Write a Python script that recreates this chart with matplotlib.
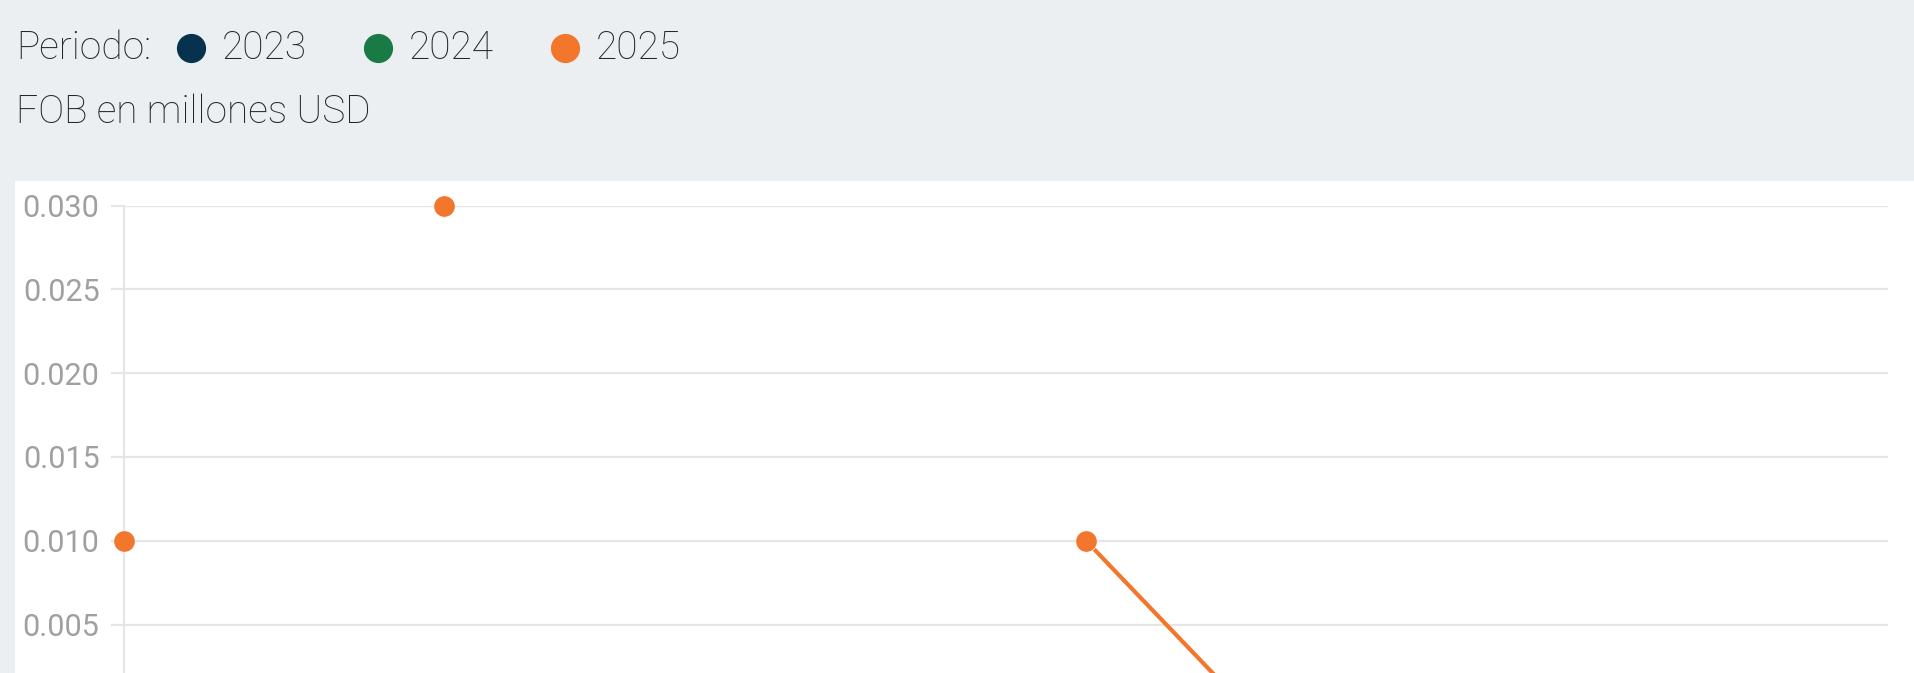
import numpy as np
import matplotlib.pyplot as plt
from matplotlib.patches import Rectangle
from matplotlib.lines import Line2D

plt.rcParams['font.family'] = ['Roboto', 'DejaVu Sans']

# data (FOB en millones USD, por mes)
months = ['Ene', 'Feb', 'Mar', 'Abr', 'May', 'Jun', 'Jul', 'Ago', 'Sep', 'Oct', 'Nov', 'Dic']
periods = ['2023', '2024', '2025']
colors = ['#06324f', '#1a7a45', '#f2762b']
fob_2023 = [0.0, 0.0, 0.0, 0.0, 0.0, 0.0, 0.0, 0.0, 0.0, 0.0, 0.0, 0.0]
fob_2024 = [0.0, 0.0, 0.0, 0.0, 0.0, 0.0, 0.0, 0.0, 0.0, 0.0, 0.0, 0.0]
fob_2025 = [0.010, np.nan, 0.030, np.nan, np.nan, np.nan, 0.010, 0.0, np.nan, np.nan, np.nan, np.nan]
yticks = [0.005, 0.010, 0.015, 0.020, 0.025, 0.030]

W, H = 1915, 673
fig = plt.figure(figsize=(W / 100, H / 100), dpi=100)
fig.patch.set_facecolor('#ebeff2')

# white chart panel
fig.patches.append(Rectangle((15 / W, 0), 1 - 15 / W, (H - 181) / H, transform=fig.transFigure,
                             facecolor='white', edgecolor='none', zorder=-1))

# header: legend row + unit
row_y = 1 - 48 / H
fig.text(16 / W, row_y, 'Periodo:', fontsize=28, color='#262626', va='center',
         fontweight='light')
dot_x = [191, 378, 565]
for name, col, px in zip(periods, colors, dot_x):
    fig.add_artist(Line2D([px / W], [row_y], marker='o', markersize=20, color=col,
                          linestyle='none', transform=fig.transFigure))
    fig.text((px + 31) / W, row_y, name, fontsize=28, color='#262626', va='center',
             fontweight='light')
fig.text(16 / W, 1 - 112 / H, 'FOB en millones USD', fontsize=28, color='#262626',
         va='center', fontweight='light')

# axes: bottom runs below the picture (cropped chart)
left, right, top, zero = 123.7, 1888, 205.7, 708.3
ax = fig.add_axes([left / W, (H - zero) / H, (right - left) / W, (zero - top) / H])
ax.set_facecolor('none')

x = np.arange(len(months))
for vals, col, z in zip([fob_2023, fob_2024, fob_2025], colors, [3, 4, 5]):
    ax.plot(x, vals, color=col, lw=3.0, marker='o', ms=15.5, mec='white', mew=0.6,
            clip_on=False, zorder=z)

ax.set_xlim(0, len(months) - 1)
ax.set_ylim(0, 0.030)
ax.set_xticks(x)
ax.set_xticklabels(months)
ax.set_yticks(yticks)
ax.set_yticklabels(['%.3f' % v for v in yticks])
ax.grid(axis='y', color='#e6e6e6', lw=1.6)
ax.set_axisbelow(True)
for s in ['top', 'right', 'bottom']:
    ax.spines[s].set_visible(False)
ax.spines['left'].set_color('#e6e6e6')
ax.spines['left'].set_linewidth(1.6)
ax.tick_params(axis='y', length=9.4, width=1.6, color='#e6e6e6', labelsize=22,
               labelcolor='#a0a0a0', pad=8)
# month labels sit below the visible area in the reference crop
ax.tick_params(axis='x', length=0, labelbottom=False)

fig.savefig('out.png', dpi=100, facecolor=fig.get_facecolor())
